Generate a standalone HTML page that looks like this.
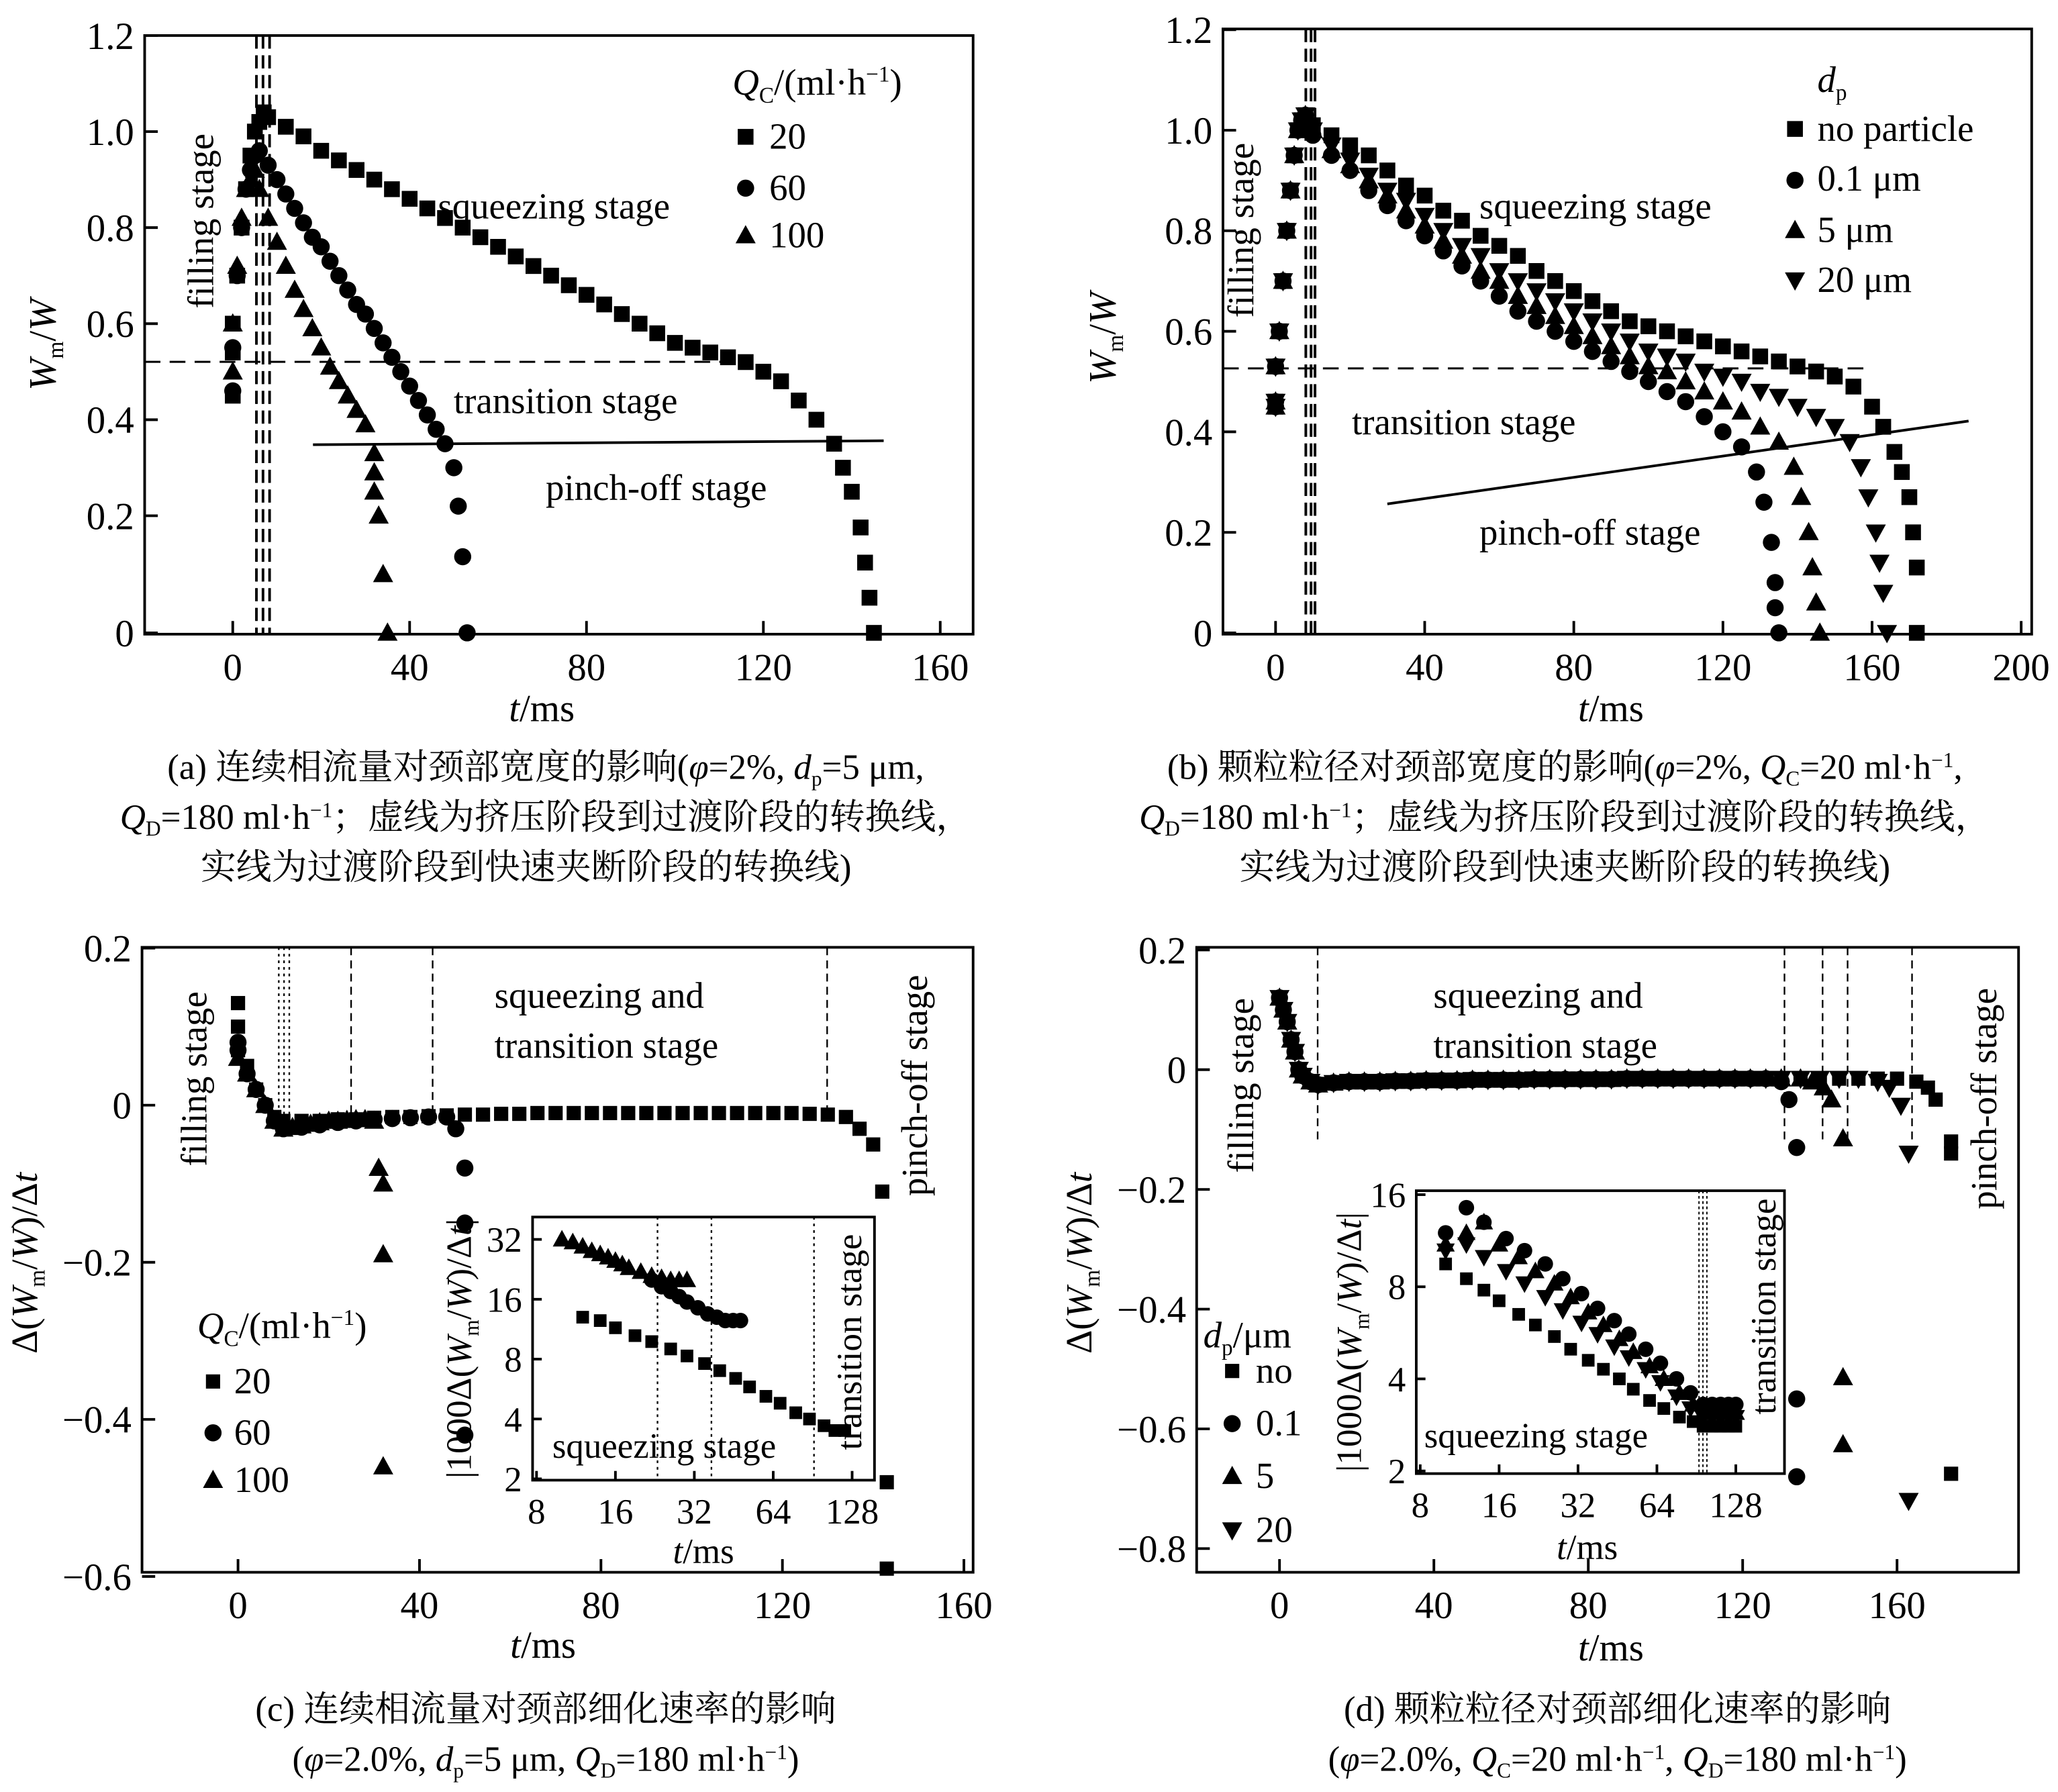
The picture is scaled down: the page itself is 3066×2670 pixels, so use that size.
<!DOCTYPE html>
<html><head><meta charset="utf-8">
<style>
html,body{margin:0;padding:0;background:#fff;}
svg{display:block;}
text{font-family:"Liberation Serif","DejaVu Serif","Noto Serif CJK SC","Noto Sans CJK SC",serif;fill:#000;}
</style></head>
<body>
<svg id="fig" width="3066" height="2670" viewBox="0 0 1565 1362" preserveAspectRatio="none" xmlns="http://www.w3.org/2000/svg">
<g id="g"></g>
<text x="557" y="72" font-size="28"><tspan font-style="italic">Q</tspan><tspan font-size="17" dy="6">C</tspan><tspan dy="-6">/(ml·h</tspan><tspan font-size="17" dy="-10">−1</tspan><tspan dy="10">)</tspan></text>
<text x="585" y="113" font-size="28">20</text>
<text x="585" y="152" font-size="28">60</text>
<text x="585" y="188" font-size="28">100</text>
<text x="333" y="166" font-size="28">squeezing stage</text>
<text x="345" y="314" font-size="28">transition stage</text>
<text x="415" y="380" font-size="28">pinch-off stage</text>
<text transform="translate(162,168) rotate(-90)" text-anchor="middle" font-size="28">filling stage</text>
<text transform="translate(42,262) rotate(-90)" text-anchor="middle" font-size="29"><tspan font-style="italic">W</tspan><tspan font-size="17" dy="6">m</tspan><tspan dy="-6">/</tspan><tspan font-style="italic">W</tspan></text>
<text x="412" y="548" text-anchor="middle" font-size="29"><tspan font-style="italic">t</tspan>/ms</text>
<text x="415" y="592" text-anchor="middle" font-size="27">(a) 连续相流量对颈部宽度的影响(<tspan font-style="italic">φ</tspan>=2%, <tspan font-style="italic">d</tspan><tspan font-size="16" dy="5">p</tspan><tspan dy="-5">=5 μm,</tspan></text>
<text x="415" y="630" text-anchor="middle" font-size="27"><tspan font-style="italic">Q</tspan><tspan font-size="16" dy="5">D</tspan><tspan dy="-5">=180 ml·h</tspan><tspan font-size="16" dy="-9">−1</tspan><tspan dy="9">；虚线为挤压阶段到过渡阶段的转换线，</tspan></text>
<text x="400" y="668" text-anchor="middle" font-size="27">实线为过渡阶段到快速夹断阶段的转换线)</text>
<text x="1382" y="70" font-size="28" font-style="italic">d<tspan font-size="17" dy="6" font-style="normal">p</tspan></text>
<text x="1382" y="107" font-size="28">no particle</text>
<text x="1382" y="145" font-size="28">0.1 μm</text>
<text x="1382" y="184" font-size="28">5 μm</text>
<text x="1382" y="222" font-size="28">20 μm</text>
<text x="1125" y="166" font-size="28">squeezing stage</text>
<text x="1028" y="330" font-size="28">transition stage</text>
<text x="1125" y="414" font-size="28">pinch-off stage</text>
<text transform="translate(953,175) rotate(-90)" text-anchor="middle" font-size="28">filling stage</text>
<text transform="translate(848,257) rotate(-90)" text-anchor="middle" font-size="29"><tspan font-style="italic">W</tspan><tspan font-size="17" dy="6">m</tspan><tspan dy="-6">/</tspan><tspan font-style="italic">W</tspan></text>
<text x="1225" y="548" text-anchor="middle" font-size="29"><tspan font-style="italic">t</tspan>/ms</text>
<text x="1190" y="592" text-anchor="middle" font-size="27">(b) 颗粒粒径对颈部宽度的影响(<tspan font-style="italic">φ</tspan>=2%, <tspan font-style="italic">Q</tspan><tspan font-size="16" dy="5">C</tspan><tspan dy="-5">=20 ml·h</tspan><tspan font-size="16" dy="-9">−1</tspan><tspan dy="9">,</tspan></text>
<text x="1190" y="630" text-anchor="middle" font-size="27"><tspan font-style="italic">Q</tspan><tspan font-size="16" dy="5">D</tspan><tspan dy="-5">=180 ml·h</tspan><tspan font-size="16" dy="-9">−1</tspan><tspan dy="9">；虚线为挤压阶段到过渡阶段的转换线，</tspan></text>
<text x="1190" y="668" text-anchor="middle" font-size="27">实线为过渡阶段到快速夹断阶段的转换线)</text>
<text x="376" y="766" font-size="28">squeezing and</text>
<text x="376" y="804" font-size="28">transition stage</text>
<text transform="translate(705,825) rotate(-90)" text-anchor="middle" font-size="28">pinch-off stage</text>
<text transform="translate(157,820) rotate(-90)" text-anchor="middle" font-size="28">filling stage</text>
<text x="150" y="1017" font-size="28"><tspan font-style="italic">Q</tspan><tspan font-size="17" dy="6">C</tspan><tspan dy="-6">/(ml·h</tspan><tspan font-size="17" dy="-10">−1</tspan><tspan dy="10">)</tspan></text>
<text x="178" y="1059" font-size="28">20</text>
<text x="178" y="1098" font-size="28">60</text>
<text x="178" y="1134" font-size="28">100</text>
<text transform="translate(28,960) rotate(-90)" text-anchor="middle" font-size="28">Δ(<tspan font-style="italic">W</tspan><tspan font-size="17" dy="6">m</tspan><tspan dy="-6">/</tspan><tspan font-style="italic">W</tspan>)/Δ<tspan font-style="italic">t</tspan></text>
<text x="413" y="1260" text-anchor="middle" font-size="29"><tspan font-style="italic">t</tspan>/ms</text>
<text transform="translate(358,1025) rotate(-90)" text-anchor="middle" font-size="27">|1000Δ(<tspan font-style="italic">W</tspan><tspan font-size="16" dy="6">m</tspan><tspan dy="-6">/</tspan><tspan font-style="italic">W</tspan>)/Δ<tspan font-style="italic">t</tspan>|</text>
<text x="420" y="1108" font-size="27">squeezing stage</text>
<text transform="translate(655,1020) rotate(-90)" text-anchor="middle" font-size="27">transition stage</text>
<text x="535" y="1188" text-anchor="middle" font-size="27"><tspan font-style="italic">t</tspan>/ms</text>
<text x="415" y="1308" text-anchor="middle" font-size="27">(c) 连续相流量对颈部细化速率的影响</text>
<text x="415" y="1346" text-anchor="middle" font-size="27">(<tspan font-style="italic">φ</tspan>=2.0%, <tspan font-style="italic">d</tspan><tspan font-size="16" dy="5">p</tspan><tspan dy="-5">=5 μm, </tspan><tspan font-style="italic">Q</tspan><tspan font-size="16" dy="5">D</tspan><tspan dy="-5">=180 ml·h</tspan><tspan font-size="16" dy="-9">−1</tspan><tspan dy="9">)</tspan></text>
<text x="1090" y="766" font-size="28">squeezing and</text>
<text x="1090" y="804" font-size="28">transition stage</text>
<text transform="translate(953,825) rotate(-90)" text-anchor="middle" font-size="28">filling stage</text>
<text transform="translate(1518,835) rotate(-90)" text-anchor="middle" font-size="28">pinch-off stage</text>
<text transform="translate(830,960) rotate(-90)" text-anchor="middle" font-size="28">Δ(<tspan font-style="italic">W</tspan><tspan font-size="17" dy="6">m</tspan><tspan dy="-6">/</tspan><tspan font-style="italic">W</tspan>)/Δ<tspan font-style="italic">t</tspan></text>
<text x="915" y="1024" font-size="28"><tspan font-style="italic">d</tspan><tspan font-size="17" dy="6">p</tspan><tspan dy="-6">/μm</tspan></text>
<text x="955" y="1051" font-size="28">no</text>
<text x="955" y="1091" font-size="28">0.1</text>
<text x="955" y="1131" font-size="28">5</text>
<text x="955" y="1172" font-size="28">20</text>
<text x="1225" y="1262" text-anchor="middle" font-size="29"><tspan font-style="italic">t</tspan>/ms</text>
<text transform="translate(1035,1020) rotate(-90)" text-anchor="middle" font-size="27">|1000Δ(<tspan font-style="italic">W</tspan><tspan font-size="16" dy="6">m</tspan><tspan dy="-6">/</tspan><tspan font-style="italic">W</tspan>)/Δ<tspan font-style="italic">t</tspan>|</text>
<text x="1083" y="1100" font-size="27">squeezing stage</text>
<text transform="translate(1350,993) rotate(-90)" text-anchor="middle" font-size="27">transition stage</text>
<text x="1207" y="1185" text-anchor="middle" font-size="27"><tspan font-style="italic">t</tspan>/ms</text>
<text x="1230" y="1308" text-anchor="middle" font-size="27">(d) 颗粒粒径对颈部细化速率的影响</text>
<text x="1230" y="1346" text-anchor="middle" font-size="27">(<tspan font-style="italic">φ</tspan>=2.0%, <tspan font-style="italic">Q</tspan><tspan font-size="16" dy="5">C</tspan><tspan dy="-5">=20 ml·h</tspan><tspan font-size="16" dy="-9">−1</tspan><tspan dy="9">, </tspan><tspan font-style="italic">Q</tspan><tspan font-size="16" dy="5">D</tspan><tspan dy="-5">=180 ml·h</tspan><tspan font-size="16" dy="-9">−1</tspan><tspan dy="9">)</tspan></text>
</svg>
<script>
const aT20=[0,0,0,1,2,3,4,5,6,7,8,12,16,20,24,28,32,36,40,44,48,52,56,60,64,68,72,76,80,84,88,92,96,100,104,108,112,116,120,124,128,132,136,138,140,142,143,144,145];
const aV20=[0.45,0.54,0.6,0.7,0.8,0.88,0.95,1.0,1.02,1.04,1.03,1.01,0.99,0.96,0.94,0.92,0.9,0.88,0.86,0.84,0.82,0.8,0.78,0.76,0.74,0.72,0.7,0.68,0.66,0.64,0.62,0.6,0.58,0.56,0.55,0.54,0.53,0.52,0.5,0.48,0.44,0.4,0.35,0.3,0.25,0.18,0.12,0.06,0];
const aT60=[0,0,1,2,3,4,5,6,8,10,12,14,16,18,20,22,24,26,28,30,32,34,36,38,40,42,44,46,48,50,51,52,53];
const aV60=[0.46,0.55,0.7,0.8,0.88,0.92,0.95,0.96,0.93,0.9,0.87,0.84,0.81,0.78,0.76,0.73,0.7,0.67,0.64,0.62,0.59,0.56,0.53,0.5,0.47,0.44,0.41,0.38,0.35,0.3,0.22,0.13,0];
const aT100=[0,0,1,2,3,4,5,6,8,10,12,14,16,18,20,22,24,26,28,30,32,32,32,33,34,35];
const aV100=[0.5,0.6,0.72,0.82,0.88,0.9,0.92,0.88,0.82,0.77,0.72,0.67,0.63,0.59,0.55,0.51,0.48,0.45,0.42,0.39,0.33,0.29,0.25,0.2,0.1,0];
const aXTicks=[0,40,80,120,160];
const aYTicks=[0,0.2,0.4,0.6,0.8,1.0,1.2];
const bRiseT=[0,0,0,1,2,3,4,5,6,7,8];
const bRiseV=[0.45,0.46,0.53,0.6,0.7,0.8,0.88,0.95,1.0,1.02,1.03];
const bTNo=[10,15,20,25,30,35,40,45,50,55,60,65,70,75,80,85,90,95,100,105,110,115,120,125,130,135,140,145,150,155,160,163,166,168,170,171,172,172];
const bVNo=[1.01,0.99,0.97,0.95,0.92,0.89,0.87,0.84,0.82,0.79,0.77,0.75,0.72,0.7,0.68,0.66,0.64,0.62,0.61,0.6,0.59,0.58,0.57,0.56,0.55,0.54,0.53,0.52,0.51,0.49,0.45,0.41,0.36,0.32,0.27,0.2,0.13,0];
const bT01=[10,15,20,25,30,35,40,45,50,55,60,65,70,75,80,85,90,95,100,105,110,115,120,125,129,131,133,134,134,135];
const bV01=[0.99,0.95,0.92,0.88,0.85,0.82,0.79,0.76,0.73,0.7,0.67,0.64,0.62,0.6,0.58,0.56,0.54,0.52,0.5,0.48,0.46,0.43,0.4,0.37,0.32,0.26,0.18,0.1,0.05,0];
const bT5=[10,15,20,25,30,35,40,45,50,55,60,65,70,75,80,85,90,95,100,105,110,115,120,125,130,135,139,141,143,144,145,146];
const bV5=[1.0,0.96,0.93,0.9,0.87,0.84,0.81,0.78,0.75,0.72,0.7,0.67,0.65,0.63,0.61,0.59,0.57,0.55,0.53,0.52,0.5,0.48,0.46,0.44,0.41,0.38,0.33,0.27,0.2,0.13,0.06,0];
const bT20=[10,15,20,25,30,35,40,45,50,55,60,65,70,75,80,85,90,95,100,105,110,115,120,125,130,135,140,145,150,154,157,159,161,162,163,164];
const bV20=[1.0,0.97,0.94,0.91,0.88,0.86,0.83,0.8,0.77,0.75,0.72,0.7,0.68,0.66,0.64,0.62,0.6,0.58,0.56,0.55,0.54,0.52,0.51,0.5,0.48,0.47,0.45,0.43,0.41,0.38,0.33,0.27,0.2,0.14,0.08,0];
const bXTicks=[0,40,80,120,160,200];
const bYTicks=[0,0.2,0.4,0.6,0.8,1.0,1.2];
const cT20=[0,0,0,2,4,6,8,10,14,18,22,26,30,34,38,42,46,50,54,58,62,66,70,74,78,82,86,90,94,98,102,106,110,114,118,122,126,130,134,137,140,142,143,143];
const cV20=[0.13,0.1,0.07,0.05,0.02,0,-0.015,-0.02,-0.02,-0.02,-0.018,-0.018,-0.016,-0.015,-0.015,-0.014,-0.013,-0.012,-0.012,-0.011,-0.011,-0.01,-0.01,-0.01,-0.01,-0.01,-0.01,-0.01,-0.01,-0.01,-0.01,-0.01,-0.01,-0.01,-0.01,-0.01,-0.011,-0.012,-0.015,-0.03,-0.05,-0.11,-0.48,-0.59];
const cT60=[0,0,2,4,6,8,10,14,18,22,26,30,34,38,42,46,48,50,50,50];
const cV60=[0.08,0.07,0.04,0.02,0,-0.02,-0.03,-0.028,-0.025,-0.022,-0.02,-0.018,-0.017,-0.016,-0.015,-0.015,-0.03,-0.08,-0.15,-0.42];
const cT100=[0,2,4,6,8,10,12,14,16,18,20,22,24,26,28,30,31,32,32,32];
const cV100=[0.06,0.04,0.02,0,-0.02,-0.03,-0.028,-0.026,-0.024,-0.022,-0.02,-0.02,-0.019,-0.018,-0.018,-0.02,-0.08,-0.1,-0.19,-0.46];
const cXTicks=[0,40,80,120,160];
const cYTicks=[0.2,0,-0.2,-0.4,-0.6];
const ciT20=[12,14,16,19,22,26,30,35,40,46,52,60,68,78,88,100,110,120];
const ciV20=[13,12.5,11.5,10.5,9.8,9,8.3,7.6,7,6.4,5.8,5.2,4.8,4.3,4,3.7,3.5,3.5];
const ciT60=[22,24,26,28,30,33,36,39,42,45,48];
const ciV60=[20,18.5,17.5,16.5,15.5,14.5,13.5,13,12.5,12.5,12.5];
const ciT100=[10,11,12,13,14,15,16,17,18,20,22,24,26,28,30];
const ciV100=[32,31,29.5,28,27,26,25,24,23,22,21,20.5,20,20,20];
const ciXTicks=[8,16,32,64,128];
const ciYTicks=[2,4,8,16,32];
const dHeadT=[0,1,2,3,4,5,6,8,10,14,18,22,26,30,34,38,42,46,50,54,58,62,66,70,74,78,82,86,90,94,98,102,106,110,114,118,122,126];
const dHeadV=[0.12,0.1,0.08,0.05,0.03,0,-0.01,-0.02,-0.025,-0.022,-0.02,-0.02,-0.02,-0.019,-0.019,-0.018,-0.018,-0.018,-0.017,-0.017,-0.017,-0.017,-0.016,-0.016,-0.016,-0.016,-0.016,-0.016,-0.015,-0.015,-0.015,-0.015,-0.015,-0.015,-0.015,-0.015,-0.015,-0.015];
const dTNoTail=[130,135,140,145,150,155,160,165,168,170,174,174,174];
const dVNoTail=[-0.015,-0.015,-0.015,-0.015,-0.015,-0.015,-0.015,-0.02,-0.03,-0.05,-0.12,-0.14,-0.675];
const dT01Tail=[130,132,134,134,134];
const dV01Tail=[-0.02,-0.05,-0.13,-0.55,-0.68];
const dT5Tail=[130,135,138,141,143,146,146,146];
const dV5Tail=[-0.015,-0.015,-0.02,-0.03,-0.05,-0.115,-0.514,-0.626];
const dT20Tail=[130,135,140,145,150,155,158,161,163,163];
const dV20Tail=[-0.015,-0.015,-0.015,-0.015,-0.015,-0.02,-0.03,-0.06,-0.14,-0.72];
const dXTicks=[0,40,80,120,160];
const dYTicks=[0.2,0,-0.2,-0.4,-0.6,-0.8];
const diTNo=[10,12,14,16,19,22,26,30,35,40,46,52,60,68,78,88,96,104,112,120,128];
const diVNo=[9.5,8.5,7.8,7.2,6.5,6,5.5,5,4.6,4.3,4,3.7,3.4,3.2,3,2.9,2.8,2.8,2.8,2.8,2.8];
const diT01=[10,12,14,17,20,24,28,33,38,44,50,58,66,76,86,96,104,112,120,128];
const diV01=[12,14.5,13,11.5,10.5,9.5,8.5,7.6,6.8,6.2,5.6,5,4.5,4,3.6,3.3,3.3,3.3,3.3,3.3];
const diT5=[10,12,14,16,19,22,26,30,35,40,46,52,60,68,78,88,96,104,112,120,128];
const diV5=[11,12,13,11,10,9,8.2,7.4,6.6,6,5.4,4.9,4.4,4,3.6,3.3,3.1,3.1,3.1,3.1,3.1];
const diT20=[10,12,14,17,20,24,28,33,38,44,50,58,66,76,86,96,104,112,120,128];
const diV20=[10.5,11,10,9,8.2,7.4,6.7,6.1,5.6,5.1,4.7,4.3,3.9,3.5,3.2,3,3,3,3,3];
const diXTicks=[8,16,32,64,128];
const diYTicks=[2,4,8,16];

const NS="http://www.w3.org/2000/svg";
const G=document.getElementById('g');
function el(tag,attrs){const e=document.createElementNS(NS,tag);for(const k in attrs)e.setAttribute(k,attrs[k]);G.appendChild(e);return e;}
function mark(shape,x,y,s,name){
  let e;
  s=s*1.2;
  if(shape==='sq'){e=el('rect',{x:x-s/2,y:y-s/2,width:s,height:s,fill:'#000'});}
  else if(shape==='ci'){e=el('circle',{cx:x,cy:y,r:s/2+0.5,fill:'#000'});}
  else if(shape==='tu'){e=el('polygon',{points:`${x},${y-s*0.6} ${x-s*0.58},${y+s*0.45} ${x+s*0.58},${y+s*0.45}`,fill:'#000'});}
  else {e=el('polygon',{points:`${x},${y+s*0.6} ${x-s*0.58},${y-s*0.45} ${x+s*0.58},${y-s*0.45}`,fill:'#000'});}
  
  
}
function series(ts,vs,X,Y,shape,s,name){for(let i=0;i<ts.length;i++)mark(shape,X(ts[i]),Y(vs[i]),s,name);}
function box(x0,y0,x1,y1,name,sw){const r=el('rect',{x:x0,y:y0,width:x1-x0,height:y1-y0,fill:'none',stroke:'#000','stroke-width':sw||2});}
function line(x1,y1,x2,y2,dash,name,sw){const l=el('line',{x1,y1,x2,y2,stroke:'#000','stroke-width':sw||1.5});if(dash)l.setAttribute('stroke-dasharray',dash);}
function txt(x,y,s,anchor,size,name){const t=el('text',{x,y,'text-anchor':anchor,'font-size':size});t.textContent=s;}
function fmt(v,d){if(v===0)return '0';return (v<0?'\u2212':'')+Math.abs(v).toFixed(d);}
function axes(X,Y,xt,yt,x0,y0,x1,y1,fs,dec,pre,tl){
  box(x0,y0,x1,y1,pre+'-plot-frame');
  xt.forEach(v=>{const x=X(v);line(x,y1,x,y1-tl,null,pre+'-x-tick',2);txt(x,y1+fs+6,String(v),'middle',fs,pre+'-x-tick-label');});
  yt.forEach(v=>{const y=Y(v);line(x0,y,x0+tl,y,null,pre+'-y-tick',2);txt(x0-8,y+fs*0.35,dec===0?String(v):fmt(v,dec),'end',fs,pre+'-y-tick-label');});
}
const aX=t=>177+t*3.3625;
const aY=v=>v>=0.2?392-(v-0.2)*365:481-(v/0.2)*89;
axes(aX,aY,aXTicks,aYTicks,110,27,740,482,29,1,'a',10);
[195,200,205].forEach(x=>line(x,27,x,482,'10,5','a-filling-boundary',2));
line(110,275,565,275,'12,7','a-squeezing-transition-line',1.5);
line(238,338,672,335,null,'a-transition-pinchoff-line',2);
series(aT20,aV20,aX,aY,'sq',10,'a-marker-20');
series(aT60,aV60,aX,aY,'ci',10,'a-marker-60');
series(aT100,aV100,aX,aY,'tu',11,'a-marker-100');
mark('sq',567,104,10,'legend-marker-20');mark('ci',567,143,10,'legend-marker-60');mark('tu',567,179,11,'legend-marker-100');
const bX=t=>970+t*2.835;
const bY=v=>481-v*382;
axes(bX,bY,bXTicks,bYTicks,930,22,1545,482,29,1,'b',10);
[993,997,1000].forEach(x=>line(x,22,x,482,'10,5','b-filling-boundary',2));
line(930,280,1420,280,'12,7','b-squeezing-transition-line',1.5);
line(1055,383,1497,320,null,'b-transition-pinchoff-line',2);
series(bRiseT.concat(bTNo),bRiseV.concat(bVNo),bX,bY,'sq',10,'b-marker-no-particle');
series(bRiseT.concat(bT01),bRiseV.concat(bV01),bX,bY,'ci',10,'b-marker-0.1um');
series(bRiseT.concat(bT5),bRiseV.concat(bV5),bX,bY,'tu',11,'b-marker-5um');
series(bRiseT.concat(bT20),bRiseV.concat(bV20),bX,bY,'td',11,'b-marker-20um');
mark('sq',1365,98,10,'legend-marker-no-particle');mark('ci',1365,137,10,'legend-marker-0.1um');mark('tu',1365,175,11,'legend-marker-5um');mark('td',1365,213,11,'legend-marker-20um');
const cX=t=>181+t*3.45;
const cY=v=>840-v*597;
axes(cX,cY,cXTicks,cYTicks,108,720,740,1195,29,1,'c',10);
[212,216,220].forEach(x=>line(x,720,x,850,'2,3','c-filling-boundary',1.2));
[267,329,629].forEach(x=>line(x,720,x,850,'6,4','c-stage-boundary',1.2));
series(cT20,cV20,cX,cY,'sq',9,'c-marker-20');
series(cT60,cV60,cX,cY,'ci',10,'c-marker-60');
series(cT100,cV100,cX,cY,'tu',11,'c-marker-100');
mark('sq',162,1050,9,'legend-marker-c-20');mark('ci',162,1089,10,'legend-marker-c-60');mark('tu',162,1125,11,'legend-marker-c-100');
const ciX=t=>408+Math.log2(t/8)*60;
const ciY=v=>942+Math.log2(32/v)*45.5;
{const r=el('rect',{x:405,y:925,width:260,height:200,fill:'#fff'});}
axes(ciX,ciY,ciXTicks,ciYTicks,405,925,665,1125,27,0,'c-inset',7);
[500,541,619].forEach(x=>line(x,925,x,1125,'2,3','c-inset-boundary',1.2));
series(ciT20,ciV20,ciX,ciY,'sq',8,'c-inset-marker-20');
series(ciT60,ciV60,ciX,ciY,'ci',9,'c-inset-marker-60');
series(ciT100,ciV100,ciX,ciY,'tu',10,'c-inset-marker-100');
const dX=t=>973+t*2.935;
const dY=v=>813-v*455;
axes(dX,dY,dXTicks,dYTicks,910,720,1535,1195,29,1,'d',10);
[1002,1357,1386,1405,1454].forEach(x=>line(x,720,x,870,'6,4','d-stage-boundary',1.2));
series(dHeadT.concat(dTNoTail),dHeadV.concat(dVNoTail),dX,dY,'sq',9,'d-marker-no');
series(dHeadT.concat(dT01Tail),dHeadV.concat(dV01Tail),dX,dY,'ci',10,'d-marker-0.1');
series(dHeadT.concat(dT5Tail),dHeadV.concat(dV5Tail),dX,dY,'tu',11,'d-marker-5');
series(dHeadT.concat(dT20Tail),dHeadV.concat(dV20Tail),dX,dY,'td',11,'d-marker-20');
mark('sq',937,1042,9,'legend-marker-d-no');mark('ci',937,1082,10,'legend-marker-d-0.1');mark('tu',937,1122,11,'legend-marker-d-5');mark('td',937,1163,11,'legend-marker-d-20');
const diX=t=>1080+Math.log2(t/8)*60;
const diY=v=>1118-Math.log2(v/2)*70;
{const r=el('rect',{x:1077,y:905,width:280,height:215,fill:'#fff'});}
axes(diX,diY,diXTicks,diYTicks,1077,905,1357,1120,27,0,'d-inset',7);
[1292,1295,1298].forEach(x=>line(x,905,x,1120,'2,2','d-inset-boundary',1));
series(diTNo,diVNo,diX,diY,'sq',8,'d-inset-marker-no');
series(diT01,diV01,diX,diY,'ci',9,'d-inset-marker-0.1');
series(diT5,diV5,diX,diY,'tu',10,'d-inset-marker-5');
series(diT20,diV20,diX,diY,'td',10,'d-inset-marker-20');
const svg=document.getElementById('fig');svg.appendChild(G);
Array.from(svg.querySelectorAll(':scope > text')).forEach(t=>svg.appendChild(t));
</script>
</body></html>
